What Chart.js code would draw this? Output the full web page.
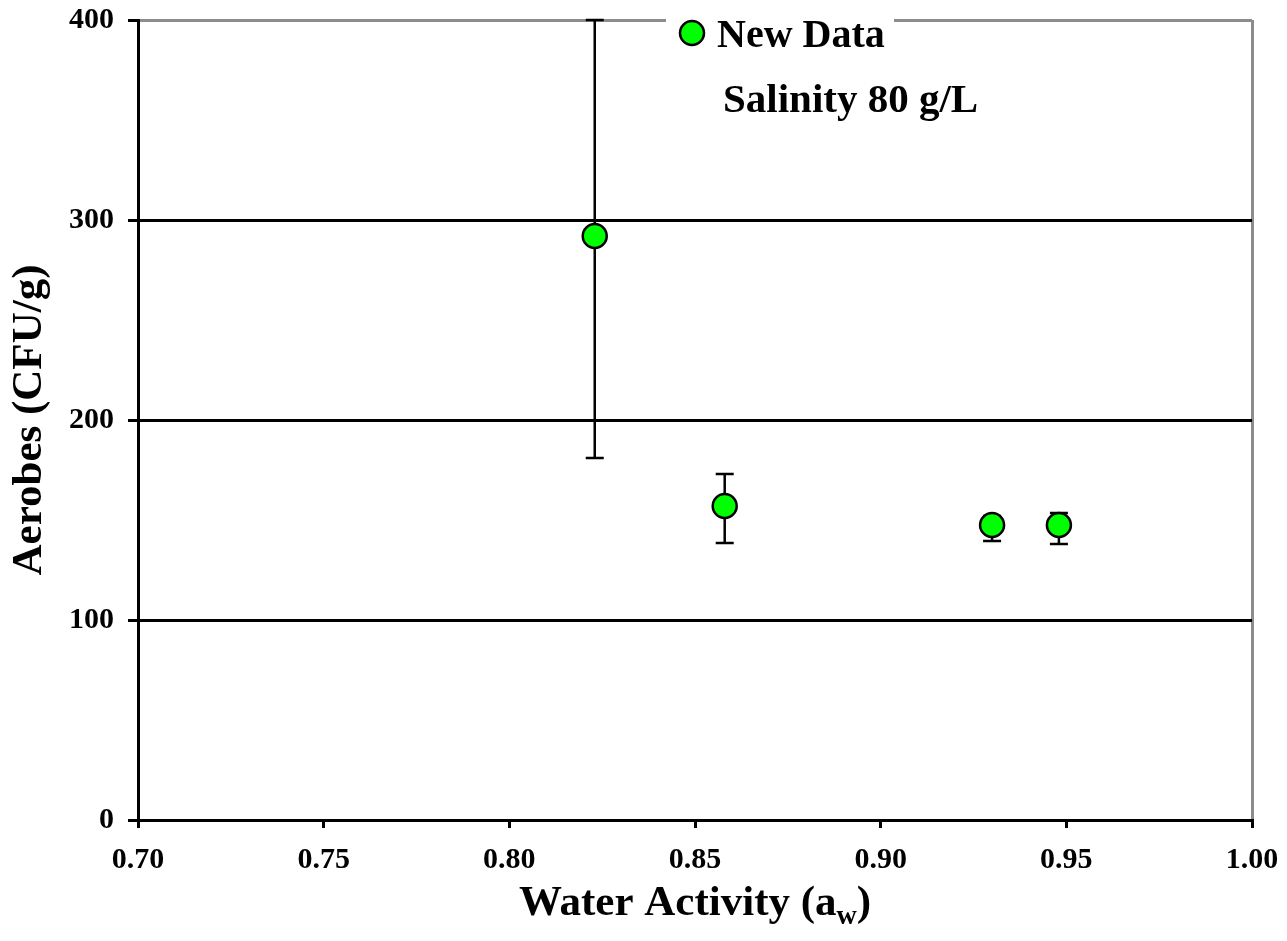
<!DOCTYPE html>
<html>
<head>
<meta charset="utf-8">
<title>Aerobes vs Water Activity</title>
<script src="https://cdn.jsdelivr.net/npm/chart.js@4/dist/chart.umd.min.js"></script>
<style>
  body { margin: 0; background: #ffffff; }
  #wrap { width: 1287px; height: 941px; }
</style>
</head>
<body>
<div id="wrap"><canvas id="chart" width="1287" height="941"></canvas></div>
<script>
// ---------- Data ----------
const seriesName = "New Data";
const noteText = "Salinity 80 g/L";
const waterActivity = [0.823, 0.858, 0.930, 0.948];
const aerobes = [292, 157, 147.5, 147.5];
const errLow = [181, 138.5, 139.5, 138];
const errHigh = [400, 173, 152, 153.5];
const xTicks = [0.70, 0.75, 0.80, 0.85, 0.90, 0.95, 1.00];
const yTicks = [0, 100, 200, 300, 400];

const FONT = "'Liberation Serif', 'Times New Roman', serif";
const GREEN = "#00FF00";
const GREY = "#8c8c8c";

// ---------- Error bars ----------
const errorBars = {
  id: 'errorBars',
  beforeDatasetsDraw(chart) {
    const { ctx, scales: { x, y } } = chart;
    ctx.save();
    ctx.strokeStyle = "#000";
    ctx.lineWidth = 2.5;
    waterActivity.forEach((wa, i) => {
      const px = x.getPixelForValue(wa);
      const top = y.getPixelForValue(errHigh[i]);
      const bot = y.getPixelForValue(errLow[i]);
      ctx.beginPath();
      ctx.moveTo(px, top); ctx.lineTo(px, bot);
      ctx.moveTo(px - 9, top); ctx.lineTo(px + 9, top);
      ctx.moveTo(px - 9, bot); ctx.lineTo(px + 9, bot);
      ctx.stroke();
    });
    ctx.restore();
  }
};

// ---------- Legend, note, x title ----------
const extras = {
  id: 'extras',
  afterDraw(chart) {
    const { ctx, chartArea } = chart;
    ctx.save();
    // legend box sits over the top border
    ctx.fillStyle = "#fff";
    ctx.fillRect(666, 12, 228, 50);
    ctx.beginPath();
    ctx.arc(692, 33, 12, 0, Math.PI * 2);
    ctx.fillStyle = GREEN;
    ctx.fill();
    ctx.lineWidth = 2.5;
    ctx.strokeStyle = "#000";
    ctx.stroke();
    ctx.fillStyle = "#000";
    ctx.textBaseline = "alphabetic";
    ctx.textAlign = "left";
    ctx.font = "bold 40px " + FONT;
    ctx.fillText(seriesName, 717, 47);
    ctx.font = "bold 41px " + FONT;
    ctx.fillText(noteText, 723, 112);

    // x axis title with subscript
    const main = "Water Activity (a";
    const sub = "w";
    const close = ")";
    const bigFont = "bold 43px " + FONT;
    const subFont = "bold 28px " + FONT;
    ctx.font = bigFont;
    const w1 = ctx.measureText(main).width;
    const w3 = ctx.measureText(close).width;
    ctx.font = subFont;
    const w2 = ctx.measureText(sub).width;
    const cx = (chartArea.left + chartArea.right) / 2;
    let sx = cx - (w1 + w2 + w3) / 2;
    const base = 915;
    ctx.font = bigFont;
    ctx.fillText(main, sx, base);
    ctx.font = subFont;
    ctx.fillText(sub, sx + w1, base + 9);
    ctx.font = bigFont;
    ctx.fillText(close, sx + w1 + w2, base);
    ctx.restore();
  }
};

const isVal = (v, t) => Math.abs(v - t) < 1e-6;

new Chart(document.getElementById('chart'), {
  type: 'scatter',
  data: {
    datasets: [{
      label: seriesName,
      data: waterActivity.map((wa, i) => ({ x: wa, y: aerobes[i] })),
      pointRadius: 12,
      pointHoverRadius: 12,
      pointBackgroundColor: GREEN,
      pointBorderColor: "#000",
      pointBorderWidth: 2.5,
      showLine: false
    }]
  },
  options: {
    responsive: false,
    animation: false,
    layout: { padding: { top: 20, right: 35, left: 0, bottom: 0 } },
    plugins: {
      legend: { display: false },
      tooltip: { enabled: false }
    },
    scales: {
      x: {
        type: 'linear',
        min: 0.70,
        max: 1.00,
        afterBuildTicks: s => { s.ticks = xTicks.map(v => ({ value: v })); },
        afterFit: s => { s.height = 121; s.paddingLeft = 0; s.paddingRight = 0; },
        ticks: {
          color: "#000",
          font: { family: FONT, size: 30, weight: 'bold' },
          padding: 14,
          maxRotation: 0,
          callback: v => Number(v).toFixed(2)
        },
        grid: {
          color: c => (c.tick && isVal(c.tick.value, 1.0)) ? GREY : 'rgba(0,0,0,0)',
          tickColor: "#000",
          lineWidth: 3,
          tickLength: 8
        },
        border: { color: "#000", width: 3 }
      },
      y: {
        min: 0,
        max: 400,
        afterBuildTicks: s => { s.ticks = yTicks.map(v => ({ value: v })); },
        afterFit: s => { s.width = 138; s.paddingTop = 0; s.paddingBottom = 0; },
        ticks: {
          color: "#000",
          font: { family: FONT, size: 30, weight: 'bold' },
          padding: 14
        },
        grid: {
          color: c => (c.tick && isVal(c.tick.value, 400)) ? GREY : "#000",
          tickColor: "#000",
          lineWidth: 3,
          tickLength: 10
        },
        border: { color: "#000", width: 3 },
        title: {
          display: true,
          text: "Aerobes (CFU/g)",
          color: "#000",
          font: { family: FONT, size: 43, weight: 'bold' },
          padding: { top: 4, bottom: 0 }
        }
      }
    }
  },
  plugins: [errorBars, extras]
});
</script>
</body>
</html>
